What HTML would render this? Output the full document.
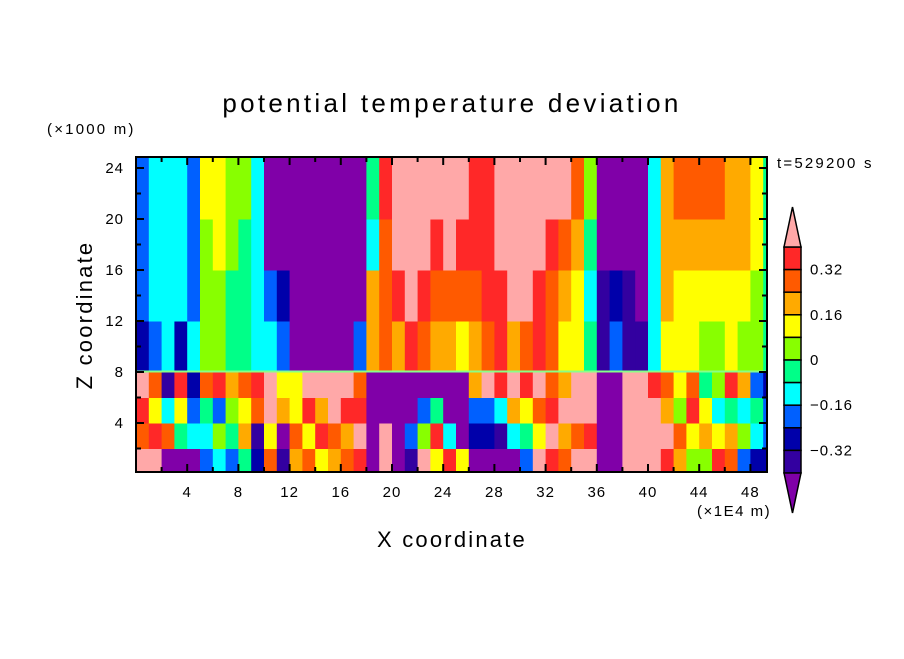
<!DOCTYPE html>
<html><head><meta charset="utf-8"><style>
html,body{margin:0;padding:0;background:#fff;}
svg text{font-family:"Liberation Sans",sans-serif;fill:#000;}
</style></head><body>
<svg id="chart" width="904" height="654" viewBox="0 0 904 654" xmlns="http://www.w3.org/2000/svg">
<defs><clipPath id="plotclip"><rect x="136" y="157" width="631" height="315"/></clipPath></defs>
<rect width="904" height="654" fill="#fff"/>
<g id="cells" clip-path="url(#plotclip)"></g>
<g id="axes"></g>
<g id="cbar"></g>
<text x="452" y="112" font-size="26" letter-spacing="3.3" text-anchor="middle">potential temperature deviation</text>
<text x="47" y="134" font-size="15" letter-spacing="2.2">(×1000 m)</text>
<text x="777" y="168" font-size="15" letter-spacing="2.2">t=529200 s</text>
<text x="697" y="516" font-size="15" letter-spacing="1.5">(×1E4 m)</text>
<text x="452" y="547" font-size="22" letter-spacing="2.2" text-anchor="middle">X coordinate</text>
<text x="92" y="315" font-size="22" letter-spacing="2.2" text-anchor="middle" transform="rotate(-90 92 315)">Z coordinate</text>
</svg>
<script>
// column values per height band (x columns 0..49 in 1E4 m)
const up20 = [-.2,-.12,-.12,-.12,-.2,.12,.12,.04,.04,-.12,-.44,-.44,-.44,-.44,-.44,-.44,-.44,-.44,-.04,.36,.44,.44,.44,.44,.44,.44,.36,.36,.44,.44,.44,.44,.44,.44,.28,.04,-.44,-.44,-.44,-.44,-.12,.2,.28,.28,.28,.28,.2,.2,.12,-.04];
const up16 = [-.2,-.12,-.12,-.12,-.2,.04,.12,.04,-.04,-.12,-.44,-.44,-.44,-.44,-.44,-.44,-.44,-.44,-.12,.28,.44,.44,.44,.36,.44,.36,.36,.36,.44,.44,.44,.44,.36,.28,.2,-.04,-.44,-.44,-.44,-.44,-.12,.2,.2,.2,.2,.2,.2,.2,.12,-.04];
const up12 = [-.2,-.12,-.12,-.12,-.2,.04,.04,-.04,-.04,-.12,-.2,-.28,-.44,-.44,-.44,-.44,-.44,-.44,.2,.28,.36,.44,.36,.28,.28,.28,.28,.36,.36,.44,.44,.36,.28,.2,.12,-.12,-.36,-.28,-.36,-.44,-.12,.2,.12,.12,.12,.12,.12,.12,.04,-.04];
const up8 = [-.28,-.2,-.12,-.28,-.12,.04,.04,-.04,-.04,-.12,-.12,-.2,-.44,-.44,-.44,-.44,-.44,-.2,.2,.28,.2,.36,.28,.2,.2,.12,.2,.28,.36,.2,.28,.36,.28,.12,.12,-.04,-.36,-.2,-.36,-.36,-.12,.12,.12,.12,.04,.04,.12,.04,.04,-.04];
const lo6 = [.44,.28,-.36,.36,-.28,.28,.36,.2,.28,.36,.44,.12,.12,.44,.44,.44,.44,.28,-.44,-.44,-.44,-.44,-.44,-.44,-.44,-.44,.2,.44,.36,.44,.36,.44,.28,.2,.44,.44,-.44,-.44,.44,.44,.36,.28,.12,.28,-.04,.04,.36,.2,-.2,-.28];
const lo4 = [.36,.12,-.12,.12,-.2,-.04,-.2,.04,.12,.28,.44,.2,.12,.36,.2,.44,.36,.36,-.44,-.44,-.44,-.44,-.2,-.04,-.44,-.44,-.2,-.2,-.12,.2,.12,.28,.36,.44,.44,.44,-.44,-.44,.44,.44,.44,.2,.04,.36,.12,-.12,-.04,-.12,-.04,-.2];
const lo2 = [.28,.36,.28,-.04,-.12,-.12,.04,-.04,.2,-.36,.12,-.44,.28,.12,.36,.28,.2,.44,-.44,.44,-.44,-.2,.04,.36,-.12,-.44,-.28,-.28,-.36,-.12,-.04,.12,.44,.2,.28,.36,-.44,-.44,.44,.44,.44,.44,.28,.12,.2,.12,.2,.04,-.12,-.2];
const lo0 = [.44,.44,-.44,-.44,-.44,-.2,-.12,-.2,-.04,-.28,.28,-.36,.2,.28,.12,.2,.28,.36,-.44,.44,-.44,-.36,.44,.12,.36,.12,-.44,-.44,-.44,-.44,-.2,.44,.36,.28,.44,.44,-.44,-.44,.44,.44,.44,.36,.2,.04,.04,.36,.28,-.2,-.28,-.28];
const bandBottoms = [0,2,4,6,8,12,16,20];
const bandTops = [2,4,6,8,12,16,20,26];
const cbarLevels = [0.4,0.32,0.24,0.16,0.08,0,-0.08,-0.16,-0.24,-0.32,-0.4];
const cbarLabels = ["0.32","0.16","0","-0.16","-0.32"];
const xTicks = [4,8,12,16,20,24,28,32,36,40,44,48];
const zTicks = [4,8,12,16,20,24];

const bands = [lo0,lo2,lo4,lo6,up8,up12,up16,up20];
const colors = ["#8000a8","#3300a0","#0000aa","#0060ff","#00ffff","#00ff88","#88ff00","#ffff00","#ffaa00","#ff5a00","#ff2828","#ffa8a8"];
const NS="http://www.w3.org/2000/svg";
function xs(u){return 136+u*12.8;}
function zs(z){return 474-z*12.75;}
function color(v){
  let i=0; const lv=[-0.4,-0.32,-0.24,-0.16,-0.08,0,0.08,0.16,0.24,0.32,0.4];
  while(i<lv.length && v>lv[i]) i++;
  return colors[i];
}
const cells=document.getElementById('cells');
bands.forEach((arr,b)=>{
  arr.forEach((v,u)=>{
    const r=document.createElementNS(NS,'rect');
    
    
    r.setAttribute('x',xs(u));r.setAttribute('width',13.4);
    r.setAttribute('y',zs(bandTops[b]));r.setAttribute('height',zs(bandBottoms[b])-zs(bandTops[b])+0.5);
    r.setAttribute('fill',color(v));
    cells.appendChild(r);
  });
});
const ln=document.createElementNS(NS,'rect');


ln.setAttribute('x',136);ln.setAttribute('y',zs(8)-1.5);ln.setAttribute('width',631);ln.setAttribute('height',2);ln.setAttribute('fill','#88ff88');
cells.appendChild(ln);

const axes=document.getElementById('axes');
function line(x1,y1,x2,y2,w,name){
  const l=document.createElementNS(NS,'line');
  
  
  l.setAttribute('x1',x1);l.setAttribute('y1',y1);l.setAttribute('x2',x2);l.setAttribute('y2',y2);
  l.setAttribute('stroke','#000');l.setAttribute('stroke-width',w);axes.appendChild(l);
}
function text(x,y,s,anchor,size,name,parent){
  const t=document.createElementNS(NS,'text');
  
  
  t.setAttribute('x',x);t.setAttribute('y',y);t.setAttribute('text-anchor',anchor);t.setAttribute('font-size',size);
  t.setAttribute('letter-spacing','1');
  t.textContent=s;(parent||axes).appendChild(t);
}
const fr=document.createElementNS(NS,'rect');


fr.setAttribute('x',136);fr.setAttribute('y',157);fr.setAttribute('width',631);fr.setAttribute('height',315);
fr.setAttribute('fill','none');fr.setAttribute('stroke','#000');fr.setAttribute('stroke-width',2);axes.appendChild(fr);
for(let u=2;u<49.3;u+=2){
  const major=xTicks.includes(u); const L=major?8:5;
  line(xs(u),472,xs(u),472-L,2,'x-tick');line(xs(u),157,xs(u),157+L,2,'x-tick-top');
}
for(let z=2;z<=24;z+=2){
  const major=zTicks.includes(z); const L=major?8:5;
  line(136,zs(z),136+L,zs(z),2,'z-tick');line(767,zs(z),767-L,zs(z),2,'z-tick-right');
}
xTicks.forEach(u=>text(xs(u),497,String(u),'middle',15,'x-tick-label'));
zTicks.forEach(z=>text(124,zs(z)+5,String(z),'end',15,'z-tick-label'));

const cb=document.getElementById('cbar');
const cx=784,cw=17,cbTop=247,bh=22.6;
function cbY(v){return cbTop+(0.4-v)/0.08*bh;}
for(let i=0;i<cbarLevels.length-1;i++){
  const r=document.createElementNS(NS,'rect');
  
  
  r.setAttribute('x',cx);r.setAttribute('y',cbY(cbarLevels[i]));r.setAttribute('width',cw);r.setAttribute('height',cbY(cbarLevels[i+1])-cbY(cbarLevels[i]));
  r.setAttribute('fill',color((cbarLevels[i]+cbarLevels[i+1])/2));r.setAttribute('stroke','#000');r.setAttribute('stroke-width',1.5);
  cb.appendChild(r);
}
const t1=document.createElementNS(NS,'polygon');


t1.setAttribute('points',`${cx},${cbTop} ${cx+cw/2},207 ${cx+cw},${cbTop}`);t1.setAttribute('fill','#ffa8a8');t1.setAttribute('stroke','#000');t1.setAttribute('stroke-width',1.5);cb.appendChild(t1);
const bot=cbY(-0.4);
const t2=document.createElementNS(NS,'polygon');


t2.setAttribute('points',`${cx},${bot} ${cx+cw/2},513 ${cx+cw},${bot}`);t2.setAttribute('fill','#8000a8');t2.setAttribute('stroke','#000');t2.setAttribute('stroke-width',1.5);cb.appendChild(t2);
cbarLabels.forEach(s=>text(810,cbY(parseFloat(s))+5,s.replace('-','\u2212'),'start',15,'colorbar-label',cb));
</script>
</body></html>
